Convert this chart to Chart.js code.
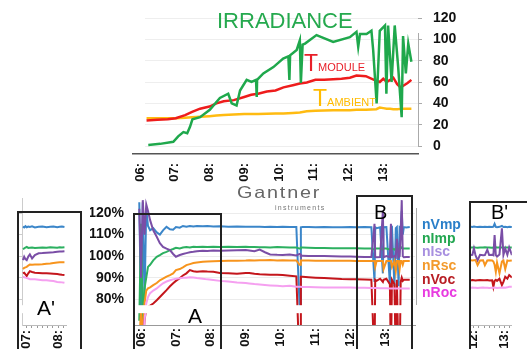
<!DOCTYPE html>
<html lang="en">
  <head>
    <meta charset="UTF-8" />
    <meta name="viewport" content="width=device-width, initial-scale=1.0" />
    <title>Gantner PV monitoring</title>
    <script src="https://cdn.jsdelivr.net/npm/chart.js"></script>
    <style>
      body {
        margin: 0;
        width: 527px;
        height: 349px;
        overflow: hidden;
        background: #fff;
        position: relative;
        font-family: "Liberation Sans", Arial, sans-serif;
      }
      canvas { position: absolute; }
      .txt { position: absolute; white-space: nowrap; }
      .frame {
        position: absolute;
        border: 2px solid #222;
        box-sizing: border-box;
        pointer-events: none;
      }
      .vline { position: absolute; width: 1px; background: #aaa; }
      .legend div { height: 13.7px; line-height: 14px; }
    </style>
  </head>
  <body>
    <canvas id="topChart" width="470" height="182" style="left:0;top:0"></canvas>
    <canvas id="mainChart" width="330" height="159" style="left:90px;top:190px"></canvas>
    <canvas id="insetA" width="64" height="159" style="left:17px;top:190px"></canvas>
    <canvas id="insetB" width="58" height="159" style="left:469px;top:190px"></canvas>

    <!-- right axis line of the top chart (only drawn over the used range) -->
    <div class="vline" style="left:418px;top:33px;height:114px"></div>

    <!-- labels top chart -->
    <div class="txt" style="left:217px;top:10px;font-size:22px;color:#25a94e;line-height:22px">IRRADIANCE</div>
    <div class="txt" style="left:304px;top:52px;color:#e8202a;line-height:23px">
      <span style="font-size:23px">T</span><span style="font-size:11px">MODULE</span>
    </div>
    <div class="txt" style="left:313px;top:87px;color:#ffbb00;line-height:23px">
      <span style="font-size:23px">T</span><span style="font-size:11px">AMBIENT</span>
    </div>

    <!-- logo -->
    <div class="txt" style="left:237px;top:184px;font-size:16.5px;line-height:16.5px;letter-spacing:1.5px;color:#666;transform:scaleX(1.2);transform-origin:left">Gantner</div>
    <div class="txt" style="left:275px;top:204px;font-size:7px;line-height:7px;letter-spacing:1.3px;color:#777">instruments</div>

    <!-- legend -->
    <div class="txt legend" style="left:422px;top:217px;font-size:14px;font-weight:bold">
      <div style="color:#2a7fc9">nVmp</div>
      <div style="color:#22a650">nImp</div>
      <div style="color:#a890e0">nIsc</div>
      <div style="color:#f39a2c">nRsc</div>
      <div style="color:#b81e24">nVoc</div>
      <div style="color:#e83ce0">nRoc</div>
    </div>
    <div class="vline" style="left:416px;top:208px;height:97px"></div>

    <!-- zoom frames -->
    <div class="frame" style="left:17px;top:211px;width:65px;height:145px"></div>
    <div class="frame" style="left:133px;top:213px;width:89px;height:145px"></div>
    <div class="frame" style="left:356px;top:195px;width:57px;height:160px"></div>
    <div class="frame" style="left:469px;top:201px;width:70px;height:160px"></div>
    <div class="txt" style="left:37px;top:297px;font-size:21px;line-height:21px">A'</div>
    <div class="txt" style="left:188px;top:305px;font-size:21px;line-height:21px">A</div>
    <div class="txt" style="left:374px;top:202px;font-size:20px;line-height:20px">B</div>
    <div class="txt" style="left:491px;top:202px;font-size:20px;line-height:20px">B'</div>

    <!-- blank the empty left edge of the top plot (gridlines start at the data there) -->
    <div style="position:absolute;z-index:10;left:100px;top:10px;width:45px;height:141px;background:#fff"></div>

    <script>
      // ---- top chart: irradiance and temperatures ----
      const irrHours = [6.24, 6.58, 6.96, 7.1, 7.25, 7.36, 7.44, 7.51, 7.73, 8.01, 8.3, 8.54, 8.64, 8.78, 8.88, 9.07, 9.21, 9.34, 9.36, 9.37, 9.55, 9.84, 10.12, 10.27, 10.3, 10.32, 10.51, 10.6, 10.63, 10.68, 10.75, 11.08, 11.56, 12.04, 12.23, 12.28, 12.33, 12.52, 12.66, 12.71, 12.81, 12.9, 13.05, 13.09, 13.14, 13.24, 13.33, 13.43, 13.53, 13.57, 13.65, 13.72, 13.81];
      const irradiance = [1, 2, 4, 9, 13, 12, 18, 25, 27, 34, 45, 49, 40, 38, 52, 62, 60, 62, 46, 62, 68, 74, 82, 84, 62, 85, 90, 99, 59, 95, 96, 104, 97.5, 102, 107, 93, 105, 105, 108, 90, 40, 108, 113, 49, 113, 60, 113, 74, 27, 103, 68, 96, 79];

      const tempHours = [6.19, 6.5, 6.8, 7.03, 7.3, 7.5, 7.73, 8.0, 8.2, 8.41, 8.7, 9.0, 9.2, 9.4, 9.65, 9.9, 10.13, 10.4, 10.6, 10.8, 11.05, 11.3, 11.56, 11.8, 12.04, 12.23, 12.5, 12.8, 12.9, 13.0, 13.1, 13.2, 13.29, 13.4, 13.5, 13.6, 13.7, 13.81];
      const tModule = [24, 24.5, 25, 26, 29, 32, 35, 37, 40, 42, 43, 46, 48, 49, 51, 52, 55, 57, 58.5, 59.5, 62, 62, 62.5, 63, 64, 66, 65.5, 61, 60, 63, 60, 62, 64, 58, 55, 57, 59, 62];
      const tAmbient = [26, 26, 26, 26, 26.5, 27, 27.5, 28, 28.5, 29, 29.5, 30, 30, 30, 30.3, 30.5, 30.5, 31, 31.5, 32.5, 33, 33.3, 33.5, 33.5, 33.6, 34, 34, 34.5, 36, 35.5, 35, 35, 34.5, 34.5, 34.8, 35, 35, 35];

      const hourTicks = [6, 7, 8, 9, 10, 11, 12, 13];
      const topTicks = [0, 20, 40, 60, 80, 100, 120];
      const pctTicks = [80, 90, 100, 110, 120];

      // ---- bottom chart: normalised values (%) ----
      const hours = [5.95, 6.0, 6.05, 6.1, 6.15, 6.2, 6.26, 6.35, 6.45, 6.54, 6.63, 6.73, 6.83, 6.92, 7.0, 7.11, 7.2, 7.3, 7.4, 7.5, 7.6, 7.77, 7.9, 8.07, 8.26, 8.5, 8.75, 9.0, 9.1, 9.25, 9.4, 9.55, 9.7, 9.9, 10.06, 10.26, 10.45, 10.54, 10.56, 10.58, 10.63, 10.8, 11.0, 11.25, 11.49, 11.75, 12.0, 12.16, 12.4, 12.6, 12.69, 12.71, 12.75, 12.85, 12.93, 12.95, 13.03, 13.13, 13.16, 13.19, 13.26, 13.3, 13.33, 13.38, 13.41, 13.44, 13.47, 13.5, 13.53, 13.6, 13.7];
      const nVmp = [125, 72, 125, 80, 122, 114, 112, 113, 111, 110, 112, 113.6, 112.5, 112.3, 113.5, 113.2, 114, 113.6, 114, 113.8, 114, 113.9, 114, 113.8, 113.9, 113.7, 113.8, 113.6, 113.7, 113.6, 113.6, 113.5, 113.6, 113.5, 113.6, 113.5, 113.5, 78, 76, 113.4, 113.5, 113.5, 113.4, 113.5, 113.4, 113.4, 113.5, 113.4, 113.5, 113.4, 88, 113.4, 113, 113.4, 92, 113.4, 113.5, 87, 113.3, 113.5, 86, 113, 113.5, 86, 113.4, 113, 121, 110, 113.5, 113.3, 113.5];
      const nImp = [70, 115, 68, 85, 90, 95, 96, 98, 99.7, 100.5, 101.4, 102, 102.8, 103.3, 103.9, 103.6, 104, 104.2, 104, 104.3, 104.2, 104.3, 104.2, 104.3, 104.2, 104.3, 104.2, 104.3, 104.2, 104.2, 104.1, 104.1, 104, 104.2, 104.1, 104, 104, 103.5, 103.5, 104, 104, 103.9, 103.8, 103.8, 103.7, 103.7, 103.6, 103.6, 103.5, 103.5, 103, 103.5, 103.5, 103.5, 103, 103.5, 103.5, 103, 103.5, 103.5, 103, 103.5, 103.5, 103, 103.5, 103.5, 104, 103.5, 103.5, 103.5, 103.5];
      const nIsc = [122, 90, 126, 110, 124, 121, 116.7, 112, 109, 106, 104.3, 103.5, 102.8, 101, 99.7, 100.5, 101, 101.4, 101.8, 102, 102.3, 102.5, 102.4, 102.6, 102.5, 102.6, 102.7, 102.8, 102.6, 102.3, 103, 101.8, 100.8, 100.6, 100.5, 100.7, 100.3, 101, 101, 100.2, 100.2, 100.1, 100, 100, 99.9, 99.8, 99.8, 99.7, 99.6, 99.6, 115, 99.6, 99.5, 99.6, 121, 99.5, 100, 99.5, 115, 99.6, 100, 99.5, 108, 99.5, 100, 110, 126, 100, 99.5, 99.6, 99.6];
      const nRsc = [60, 75, 62, 78, 84, 85, 85.5, 86.5, 87.5, 88.8, 89.5, 90.5, 91.2, 92, 93.5, 94, 94.8, 95.8, 96.3, 96.8, 97, 97.4, 97.5, 97.6, 97.7, 97.8, 97.9, 98, 98.1, 98, 98.1, 98.1, 98.2, 98, 98.1, 98, 98, 96, 96, 98, 98, 98, 97.9, 97.9, 97.8, 97.8, 97.8, 97.7, 97.7, 97.7, 97.7, 95, 97.7, 97.7, 97.7, 94, 97.7, 97.7, 97.7, 95, 97.7, 93, 97.7, 97.7, 94, 97.7, 97.7, 96, 97.7, 97.7, 97.7];
      const nVoc = [55, 60, 58, 70, 76, 76.4, 77, 78, 79.5, 81, 82.5, 84.2, 86, 87.4, 88.5, 89.7, 91, 92, 93.5, 93, 92.7, 93, 92.8, 92.7, 92.2, 92, 91.8, 92.2, 92.2, 91.8, 91.6, 91.5, 91.4, 91.3, 91.2, 90.9, 90.6, 50, 50, 90.4, 90.4, 90.2, 90, 89.8, 89.6, 89.4, 89.3, 89.2, 89.1, 89, 50, 89, 88.5, 89.5, 88, 89, 89.5, 87, 50, 89, 87, 50, 89, 50, 50, 88, 90, 88.5, 89, 89, 89];
      const nRoc = [50, 62, 55, 70, 78, 81, 82.8, 84, 85, 86.2, 87.4, 88.2, 88.8, 89.2, 89.5, 89.7, 89.9, 90, 90.2, 90.1, 89.8, 89.5, 89.2, 88.9, 88.5, 88.2, 87.8, 87.5, 87.3, 87, 86.8, 86.6, 86.4, 86.2, 86, 86.2, 85.8, 85.8, 85.8, 85.8, 85.7, 85.6, 85.5, 85.4, 85.4, 85.4, 85.4, 85.3, 85.3, 85.2, 85.2, 85.2, 85.2, 85.1, 85.1, 85.1, 85.1, 85, 85, 85, 85, 85, 85, 85, 85, 85, 85, 85, 85, 85, 85];

      // ---- inset A' (07:00 - 08:10) ----
      const hoursA = [6.88, 6.92, 6.96, 7.0, 7.05, 7.1, 7.17, 7.26, 7.38, 7.5, 7.63, 7.75, 7.85, 7.97, 8.05, 8.12, 8.2];
      const aVmp = [113.8, 113.3, 113.9, 113.4, 113.7, 113.5, 113.8, 113.3, 113.6, 113.8, 113.4, 113.6, 113.7, 113.4, 113.6, 113.7, 113.5];
      const aImp = [103.3, 103.6, 104, 104.3, 103.8, 103.9, 104, 103.8, 103.9, 104, 103.9, 104.1, 104, 103.9, 104.1, 104, 104.1];
      const aIsc = [98.1, 99.7, 98.6, 98.1, 99.8, 100.8, 98.9, 100.5, 101.3, 101.4, 101.6, 101.7, 101.8, 102, 102.1, 102.2, 102.3];
      const aRsc = [94, 94.5, 94.8, 95, 95.6, 96.1, 96, 96.1, 96.1, 96.2, 96.5, 96.6, 96.8, 97, 97.1, 97.2, 97.2];
      const aVoc = [92, 92.3, 91.5, 90.8, 92, 93, 92.6, 92.3, 92.2, 92, 92, 91.9, 91.8, 91.7, 91.5, 91.3, 91.2];
      const aRoc = [90.4, 90.2, 90, 89.8, 89.6, 89.3, 89.3, 89.2, 89, 88.8, 88.8, 88.6, 88.4, 88, 87.9, 87.8, 87.6];

      // ---- inset B' (12:00 - 13:15) ----
      const hoursB = [11.9, 11.95, 12.0, 12.05, 12.12, 12.2, 12.3, 12.36, 12.44, 12.5, 12.6, 12.64, 12.68, 12.72, 12.76, 12.84, 12.92, 12.97, 13.03, 13.1, 13.16, 13.25];
      const bVmp = [113.6, 113.5, 113.7, 113.6, 113.5, 113.6, 113.5, 113.6, 113.5, 113.6, 113.5, 113.7, 115, 113.6, 113.4, 113.6, 114, 113.5, 113.6, 113.4, 113.6, 113.5];
      const bImp = [104, 104, 104.1, 104, 103.9, 104, 104, 104.1, 104, 104, 103.9, 104, 104, 104.1, 104, 104, 104, 103.9, 104, 104, 104, 104];
      const bIsc = [100.5, 100.6, 103.6, 100.5, 98, 100.6, 100.4, 100.5, 103, 100.5, 100.6, 100.4, 109.8, 100.5, 99.8, 100.8, 112.9, 100.5, 103.5, 100.6, 104, 100.5];
      const bRsc = [98.1, 98, 98.1, 98.2, 95.8, 98, 98.1, 95.8, 98, 98.1, 98, 97.5, 96, 92.7, 97, 92, 97.5, 98, 94, 98, 97.8, 98];
      const bVoc = [88.8, 88.9, 88.8, 88.7, 88.8, 88.9, 88.8, 88.8, 88.9, 88.7, 88.8, 85.7, 88.5, 89, 88.5, 89.5, 86.5, 88, 90.4, 89.5, 91.2, 90];
      const bRoc = [85.3, 85.4, 85.3, 85.3, 85.2, 85.3, 85.4, 85.3, 85.3, 85.2, 85.3, 85.3, 85.4, 85.3, 85.2, 85.3, 85.3, 85.4, 85.3, 85.5, 85.8, 85.8];

      Chart.defaults.font.family = "'Liberation Sans', Arial, sans-serif";
      Chart.defaults.color = "#111";

      const pts = (xs, ys) => xs.map((x, i) => ({ x: x, y: ys[i] }));
      const hh = (v) => (v < 10 ? "0" : "") + v + ":";

      // series colours (same order in all three bottom charts)
      const lineColors = ["#3b86c9", "#2cb060", "#7a4ea6", "#f7941d", "#c4161c", "#f5a0f0"];

      const percentSets = (vals) =>
        vals.map((v, i) => ({
          data: v,
          borderColor: lineColors[i],
          borderWidth: 2,
          order: 6 - i,
        }));

      // white strip across the low part of the percent charts
      const stripPlugin = {
        id: "strip",
        afterDatasetsDraw(chart) {
          const { ctx, chartArea, scales } = chart;
          const y1 = scales.y.getPixelForValue(77.2);
          const y2 = scales.y.getPixelForValue(73.5);
          ctx.save();
          ctx.fillStyle = "#fff";
          ctx.fillRect(chartArea.left, y1, chartArea.right - chartArea.left, y2 - y1);
          ctx.restore();
        },
      };

      const common = {
        responsive: false,
        animation: false,
        elements: { point: { radius: 0, hoverRadius: 0 }, line: { tension: 0 } },
        plugins: { legend: { display: false }, tooltip: { enabled: false } },
      };

      // top chart
      new Chart(document.getElementById("topChart"), {
        type: "line",
        data: {
          datasets: [
            { data: pts(irrHours, irradiance), borderColor: "#1fa84c", borderWidth: 2.5, order: 1 },
            { data: pts(tempHours, tModule), borderColor: "#ee1c1c", borderWidth: 2.5, order: 2 },
            { data: pts(tempHours, tAmbient), borderColor: "#ffbb11", borderWidth: 2.5, order: 3 },
          ],
        },
        options: {
          ...common,
          layout: { padding: { left: 133, top: 18, right: 0, bottom: 0 } },
          scales: {
            x: {
              type: "linear",
              min: 5.8,
              max: 14,
              afterBuildTicks: (s) => { s.ticks = hourTicks.map((v) => ({ value: v })); },
              afterFit: (s) => { s.height = 28; },
              ticks: { minRotation: 90, maxRotation: 90, padding: 1, font: { size: 13, weight: "bold" }, callback: (v) => hh(v) },
              grid: { display: false },
              border: { color: "#555", width: 1.5 },
            },
            y: {
              position: "right",
              min: -7.5,
              max: 120,
              afterBuildTicks: (s) => { s.ticks = topTicks.map((v) => ({ value: v })); },
              afterFit: (s) => { s.width = 52; },
              ticks: { padding: 11, font: { size: 14, weight: "bold", lineHeight: 0.9 } },
              grid: { color: "#eeeeee", tickLength: 4, tickColor: "#aaa" },
              border: { display: false },
            },
          },
        },
      });

      // main percent chart
      new Chart(document.getElementById("mainChart"), {
        type: "line",
        data: { datasets: percentSets([nVmp, nImp, nIsc, nRsc, nVoc, nRoc].map((v) => pts(hours, v))) },
        options: {
          ...common,
          layout: { padding: { left: 0, top: 8, right: 5, bottom: 0 } },
          scales: {
            x: {
              type: "linear",
              min: 5.77,
              max: 13.85,
              afterBuildTicks: (s) => { s.ticks = hourTicks.map((v) => ({ value: v })); },
              afterFit: (s) => { s.height = 24; },
              ticks: { minRotation: 90, maxRotation: 90, padding: 3, font: { size: 13, weight: "bold" }, callback: (v) => hh(v) },
              grid: { drawOnChartArea: false, drawTicks: false },
              border: { color: "#999" },
            },
            y: {
              min: 68,
              max: 127,
              afterBuildTicks: (s) => { s.ticks = pctTicks.map((v) => ({ value: v })); },
              afterFit: (s) => { s.width = 43; },
              ticks: { padding: 0, font: { size: 14, weight: "bold", lineHeight: 1 }, callback: (v) => v + "%" },
              grid: { color: "#ececec", drawTicks: true, tickLength: 9, tickColor: "rgba(0,0,0,0)" },
              border: { display: false },
            },
          },
        },
        plugins: [stripPlugin],
      });

      // zoomed insets
      const minorTicks = (from, to) => {
        const t = [];
        for (let k = from; k <= to; k++) t.push({ value: k / 6 });
        return t;
      };

      const makeInset = (id, xs, vals, xmin, xmax, padLeft, tickRange, showY) =>
        new Chart(document.getElementById(id), {
          type: "line",
          data: { datasets: percentSets(vals.map((v) => pts(xs, v))) },
          options: {
            ...common,
            layout: { padding: { left: padLeft, top: 8, right: 0, bottom: 0 } },
            scales: {
              x: {
                type: "linear",
                min: xmin,
                max: xmax,
                afterBuildTicks: (s) => { s.ticks = minorTicks(tickRange[0], tickRange[1]); },
                afterFit: (s) => { s.height = 24; },
                ticks: {
                  minRotation: 90, maxRotation: 90, padding: 2, autoSkip: false,
                  font: { size: 13, weight: "bold" },
                  callback: (v) => (Math.abs(v - Math.round(v)) < 1e-6 ? hh(Math.round(v)) : ""),
                },
                grid: { drawOnChartArea: false, tickLength: 3, color: "#999" },
                border: { color: "#bbb" },
              },
              y: {
                min: 68,
                max: 127,
                afterBuildTicks: (s) => { s.ticks = pctTicks.map((v) => ({ value: v })); },
                afterFit: (s) => { s.width = 0; },
                ticks: { display: false },
                grid: { drawOnChartArea: false, tickLength: 3, color: "#ccc", display: showY },
                border: { display: showY, color: "#ccc" },
              },
            },
          },
          plugins: [stripPlugin],
        });

      makeInset("insetA", hoursA, [aVmp, aImp, aIsc, aRsc, aVoc, aRoc], 6.85, 8.25, 5, [42, 49], true);
      makeInset("insetB", hoursB, [bVmp, bImp, bIsc, bRsc, bVoc, bRoc], 11.904, 13.247, 2, [72, 79], false);
    </script>
  </body>
</html>
